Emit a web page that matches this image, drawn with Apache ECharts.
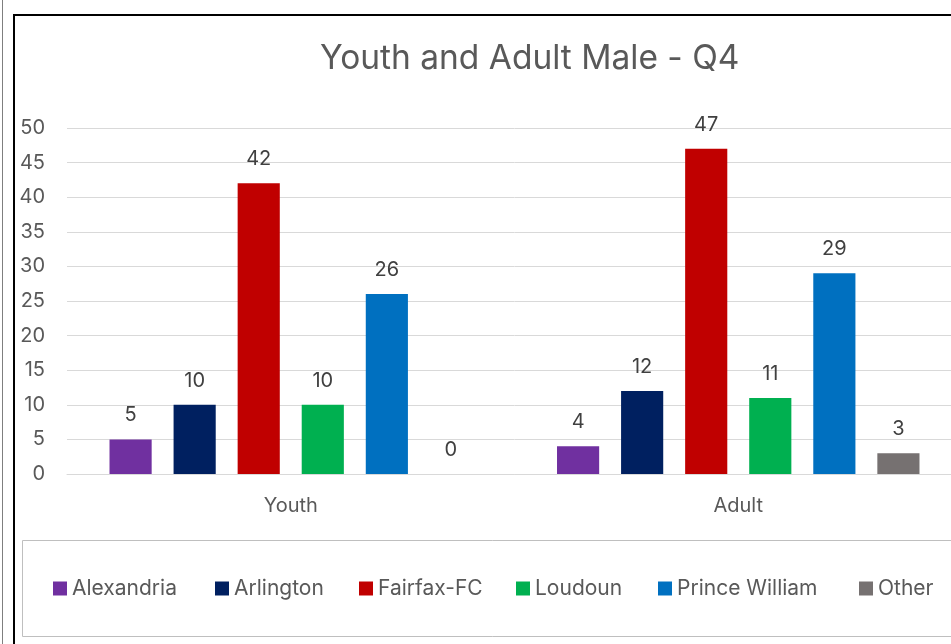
<!DOCTYPE html>
<html><head><meta charset="utf-8">
<script src="https://cdn.jsdelivr.net/npm/echarts@6/dist/echarts.min.js"></script>
<style>html,body{margin:0;padding:0;background:#fff;overflow:hidden}#c{width:962px;height:644px}</style>
</head><body><div id="c"></div>
<script>
const categories = ['Youth', 'Adult'];
const seriesNames = ['Alexandria', 'Arlington', 'Fairfax-FC', 'Loudoun', 'Prince William', 'Other'];
const alexandria = [5, 4];
const arlington = [10, 12];
const fairfax = [42, 47];
const loudoun = [10, 11];
const princeWilliam = [26, 29];
const other = [0, 3];
const colors = ['#7030A0', '#002060', '#C00000', '#00B050', '#0070C0', '#767171'];
const yTicks = [0, 5, 10, 15, 20, 25, 30, 35, 40, 45, 50];

const FONT = 'Inter';
const values = [alexandria, arlington, fairfax, loudoun, princeWilliam, other];
const legendLefts = [53, 215, 359, 516, 658, 859];
const chart = echarts.init(document.getElementById('c'), null, {renderer: 'canvas'});
chart.setOption({
  animation: false,
  textStyle: {fontFamily: FONT},
  title: {text: 'Youth and Adult Male - Q4', left: 315, top: 37,
    textStyle: {fontFamily: FONT, fontSize: 33.5, fontWeight: 'normal', color: '#595959'}},
  legend: seriesNames.map((n, i) => ({left: legendLefts[i], top: 578, padding: 0, itemWidth: 14, itemHeight: 14, itemGap: 0, icon: 'rect',
    textStyle: {fontFamily: FONT, fontSize: 21, color: '#595959'},
    data: [n]})),
  grid: {left: 67, top: 128, right: 0, height: 346, containLabel: false},
  xAxis: {type: 'category', data: categories,
    axisLine: {lineStyle: {color: '#d9d9d9', width: 1}}, axisTick: {show: false},
    axisLabel: {fontFamily: FONT, fontSize: 20, color: '#595959', margin: 22}},
  yAxis: {type: 'value', min: 0, max: 50, interval: 5,
    axisLine: {show: false}, axisTick: {show: false},
    splitLine: {lineStyle: {color: '#d9d9d9', width: 1}},
    axisLabel: {fontFamily: FONT, fontSize: 20, color: '#595959', margin: 22,
      formatter: v => yTicks.includes(v) ? String(v) : ''}},
  graphic: [
    {type: 'line', shape: {x1: 2.5, y1: 0, x2: 2.5, y2: 644}, style: {stroke: '#7f7f7f', lineWidth: 1}},
    {type: 'rect', shape: {x: 14, y: 15, width: 960, height: 700}, style: {fill: 'none', stroke: '#000', lineWidth: 2}, silent: true},
    {type: 'rect', shape: {x: 22.5, y: 540.5, width: 960, height: 96}, style: {fill: 'none', stroke: '#bfbfbf', lineWidth: 1}, silent: true}
  ],
  series: seriesNames.map((n, i) => ({
    name: n, type: 'bar', data: values[i], barGap: '52%', barCategoryGap: '19%',
    itemStyle: {color: colors[i]},
    label: {show: true, position: 'top', distance: 14, fontFamily: FONT, fontSize: 20, color: '#404040'}
  }))
});
</script></body></html>
